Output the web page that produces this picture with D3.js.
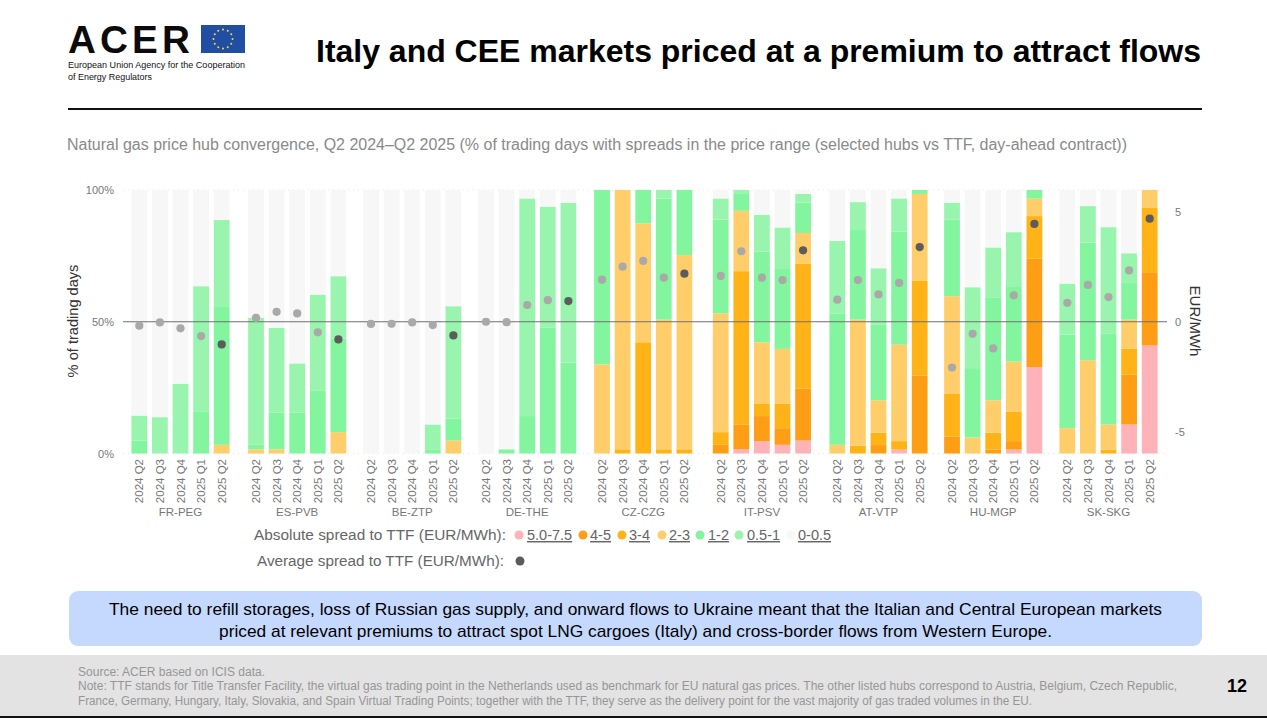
<!DOCTYPE html>
<html><head><meta charset="utf-8">
<script src="https://cdn.jsdelivr.net/npm/d3@7"></script>
<style>
html,body{margin:0;padding:0;background:#fff;overflow:hidden}
svg{display:block;font-family:"Liberation Sans",Arial,sans-serif}
</style></head><body><svg id="c" width="1267" height="718"></svg>
<script>
const hubs=["FR-PEG","ES-PVB","BE-ZTP","DE-THE","CZ-CZG","IT-PSV","AT-VTP","HU-MGP","SK-SKG"];
const quarters=["2024 Q2","2024 Q3","2024 Q4","2025 Q1","2025 Q2"];
const bands=["5.0-7.5","4-5","3-4","2-3","1-2","0.5-1","0-0.5"];
const bandColors=["#ffb3b8","#ff9d14","#ffb316","#ffce6b","#82f59e","#99f5ae","#f7f7f7"];
const p5=[0,0,0,0,0, 0,0,0,0,0, 0,0,0,0,0, 0,0,0,0,0, 0,0,0,0,0, 0,1.6,4.7,3.3,4.9, 0,0,0,1.5,0, 0,0,0,1.5,32.8, 0,0,0,11,41];
const p4=[0,0,0,0,0, 0,0,0,0,0, 0,0,0,0,0, 0,0,0,0,0, 0,0,0,0,0, 3.3,9.3,9.5,6.3,19.7, 0,0,3.2,0,29.5, 6.5,0,1.5,3.2,41.1, 0,0,0,19,27.8];
const p3=[0,0,0,0,0, 0,0,0,0,0, 0,0,0,0,0, 0,0,0,0,0, 0,1.6,42.2,1.6,1.6, 4.8,58.3,4.6,9.4,47.5, 0,3,4.7,3.2,36, 16.1,0,6.4,11.1,16.2, 0,0,1.5,9.7,24.6];
const p2=[0,0,0,0,3.3, 1.6,1.6,0,0,8.1, 0,0,0,0,4.9, 0,0,0,0,0, 33.8,98.4,45.1,49.2,73.7, 45.1,22.9,23.4,20.7,11.6, 3.3,47.8,12.3,36.6,33, 37.1,6.1,12.3,19.1,6.6, 9.6,35.4,9.5,11.1,6.6];
const p1=[4.9,0,0,15.8,52.6, 1.7,14,15.6,24,35.5, 0,0,0,1.6,8.3, 0,1.6,14.2,47.7,34.5, 66.2,0,12.7,46,24.7, 35.6,6.4,34.4,30.3,11.5, 49.9,34,28.8,42.9,1.5, 29,26.3,39.1,28.6,3.3, 35.6,44.6,34.4,14.2,0];
const p05=[9.5,13.8,26.5,47.7,32.7, 48.3,32.1,18.6,36.3,23.7, 0,0,0,9.4,42.7, 0,0,82.6,46,60.7, 0,0,0,3.2,0, 8,1.5,14,15.8,3.3, 27.5,10.6,21.3,12.6,0, 6.5,30.7,18.9,20.5,0, 19.3,13.9,40.5,11,0];
const p0=[85.6,86.2,73.5,36.5,11.4, 48.4,52.3,65.8,39.7,32.7, 100,100,100,89,44.1, 100,98.4,3.2,6.3,4.8, 0,0,0,0,0, 3.2,0,9.4,14.2,1.5, 19.3,4.6,29.7,3.2,0, 4.8,36.9,21.8,16,0, 35.5,6.1,14.1,24,0];
const avgSpread=[-0.18,-0.03,-0.3,-0.65,-1.03, 0.18,0.45,0.38,-0.48,-0.8, -0.1,-0.09,-0.03,-0.15,-0.62, 0,-0.02,0.76,0.98,0.94, 1.91,2.5,2.76,2,2.18, 2.08,3.2,2,1.89,3.24, 1,1.89,1.24,1.76,3.39, -2.08,-0.55,-1.21,1.2,4.44, 0.86,1.67,1.12,2.33,4.68];
const pctTicks=[0,50,100], eurTicks=[-5,0,5];
const title="Italy and CEE markets priced at a premium to attract flows";
const subtitle="Natural gas price hub convergence, Q2 2024–Q2 2025 (% of trading days with spreads in the price range (selected hubs vs TTF, day-ahead contract))";
const callout=["The need to refill storages, loss of Russian gas supply, and onward flows to Ukraine meant that the Italian and Central European markets","priced at relevant premiums to attract spot LNG cargoes (Italy) and cross-border flows from Western Europe."];
const notes=["Source: ACER based on ICIS data.","Note: TTF stands for Title Transfer Facility, the virtual gas trading point in the Netherlands used as benchmark for EU natural gas prices. The other listed hubs correspond to Austria, Belgium, Czech Republic,","France, Germany, Hungary, Italy, Slovakia, and Spain Virtual Trading Points; together with the TTF, they serve as the delivery point for the vast majority of gas traded volumes in the EU."];

const svg=d3.select("#c");
const T=(x,y,s,o={})=>{const t=svg.append("text").attr("x",x).attr("y",y).text(s).attr("font-size",o.size||12).attr("fill",o.fill||"#000");
 if(o.weight)t.attr("font-weight",o.weight); if(o.anchor)t.attr("text-anchor",o.anchor); if(o.ls)t.attr("letter-spacing",o.ls); if(o.len)t.attr("textLength",o.len).attr("lengthAdjust","spacingAndGlyphs"); return t;};

// header
T(68,53,"ACER",{size:39.5,weight:700,ls:4.2,fill:"#0b0b0b",len:126});
svg.append("rect").attr("x",201).attr("y",25).attr("width",44).attr("height",28).attr("fill","#1f4ea3");
svg.append("g").selectAll("circle").data(d3.range(12)).join("circle")
 .attr("cx",d=>223+9.5*Math.cos(d*Math.PI/6)).attr("cy",d=>39+9.5*Math.sin(d*Math.PI/6)).attr("r",1).attr("fill","#ffd83a");
T(68,68,"European Union Agency for the Cooperation",{size:9.2,fill:"#111",len:177});
T(68,80,"of Energy Regulators",{size:9.2,fill:"#111",len:84});
T(1201,62,title,{size:30.5,weight:700,anchor:"end",len:885});
svg.append("rect").attr("x",68).attr("y",108).attr("width",1134).attr("height",2).attr("fill","#111");
T(67,150,subtitle,{size:15.6,fill:"#8a8a8a",len:1060});

// scales
const plotTop=190,plotBottom=453.5;
const y=d3.scaleLinear().domain([0,100]).range([plotBottom,plotTop]);
const yR=d3.scaleLinear().domain([-5.98,5.98]).range([plotBottom,plotTop]);
const hubX=d3.scaleOrdinal().domain(hubs).range([129,245.7,360.7,475.7,591.7,710.4,827,941.7,1057]);
const qX=d3.scaleBand().domain(quarters).range([0,103]).paddingInner(0.235).paddingOuter(0.118);
const rows=[];
hubs.forEach((h,i)=>quarters.forEach((q,j)=>{const k=i*5+j;rows.push({hub:h,q,"5.0-7.5":p5[k],"4-5":p4[k],"3-4":p3[k],"2-3":p2[k],"1-2":p1[k],"0.5-1":p05[k],"0-0.5":p0[k],avg:avgSpread[k],last:j===4});}));
const bx=d=>hubX(d.hub)+qX(d.q);

// dotted light grid at both extremes
[0,100].forEach(v=>svg.append("line").attr("x1",123).attr("x2",1167).attr("y1",y(v)).attr("y2",y(v)).attr("stroke","#e4e4e4").attr("stroke-dasharray","1 4"));

// stacked bars
const stack=d3.stack().keys(bands)(rows);
svg.append("g").selectAll("g").data(stack).join("g").attr("fill",(d,i)=>bandColors[i])
 .selectAll("rect").data(d=>d).join("rect")
 .attr("x",d=>bx(d.data)).attr("width",qX.bandwidth())
 .attr("y",d=>y(d[1])).attr("height",d=>Math.max(0,y(d[0])-y(d[1])));

// zero line
svg.append("line").attr("x1",123).attr("x2",1167).attr("y1",yR(0)).attr("y2",yR(0)).attr("stroke","#6f6f6f").attr("stroke-width",1);

// dots
svg.append("g").selectAll("circle").data(rows).join("circle")
 .attr("cx",d=>bx(d)+qX.bandwidth()/2).attr("cy",d=>yR(d.avg)).attr("r",4.1)
 .attr("fill",d=>d.last?"#5c5c5c":"#a9a9a9");

// axes
const fmtAxis=g=>{g.select(".domain").remove();g.selectAll(".tick line").remove();g.selectAll("text").attr("fill","#777").attr("font-family","'Liberation Sans',Arial,sans-serif");};
svg.append("g").attr("transform","translate(114,0)").call(d3.axisLeft(y).tickValues(pctTicks).tickFormat(d=>d+"%").tickSize(0).tickPadding(0)).attr("font-size",11).call(fmtAxis);
svg.append("g").attr("transform","translate(1175,0)").call(d3.axisRight(yR).tickValues(eurTicks).tickFormat(d=>d).tickSize(0).tickPadding(0)).attr("font-size",11).call(fmtAxis);
svg.append("g").attr("transform",`translate(0,${plotBottom})`).selectAll("g").data(hubs).join("g")
 .attr("transform",h=>`translate(${hubX(h)},0)`)
 .each(function(h){
   const g=d3.select(this);
   g.append("g").call(d3.axisBottom(qX).tickSize(0).tickPadding(0)).attr("font-size",11.5).call(fmtAxis)
    .selectAll("text").attr("transform","rotate(-90)").attr("x",-5.5).attr("y",0).attr("dy","0.35em").attr("text-anchor","end");
   g.append("text").attr("x",51.5).attr("y",62).attr("text-anchor","middle").attr("font-size",11.5).attr("fill","#777").text(h);
 });
T(0,0,"% of trading days",{size:14.6,fill:"#333",anchor:"middle"}).attr("transform","translate(78,321) rotate(-90)");
T(0,0,"EUR/MWh",{size:15,fill:"#333",anchor:"middle"}).attr("transform","translate(1190,321) rotate(90)");

// legend
T(506,540,"Absolute spread to TTF (EUR/MWh):",{size:15.4,fill:"#666",anchor:"end",len:252});
T(504,566,"Average spread to TTF (EUR/MWh):",{size:15.4,fill:"#666",anchor:"end",len:247});
const legendDot=[519,583,622,662,700,739,791], legendText=[527,590,629,669,708,747,798];
bands.forEach((b,i)=>{
 svg.append("circle").attr("cx",legendDot[i]).attr("cy",535).attr("r",4.5).attr("fill",bandColors[i]);
 T(legendText[i],540,b,{size:14.5,fill:"#666"}).attr("text-decoration","underline");
});
svg.append("circle").attr("cx",520).attr("cy",561).attr("r",4.5).attr("fill","#5c5c5c");

// callout
svg.append("rect").attr("x",69).attr("y",591).attr("width",1133).attr("height",55).attr("rx",9).attr("fill","#c5d8fd");
T(635.5,615,callout[0],{size:17,anchor:"middle",len:1053});
T(635.5,636.5,callout[1],{size:17,anchor:"middle",len:833});

// footer
svg.append("rect").attr("x",0).attr("y",655).attr("width",1267).attr("height",61).attr("fill","#e3e3e3");
svg.append("rect").attr("x",0).attr("y",716).attr("width",1267).attr("height",2).attr("fill","#111");
T(78,676,notes[0],{size:12,fill:"#969696",len:187});
T(78,690,notes[1],{size:12,fill:"#969696",len:1099});
T(78,705,notes[2],{size:12,fill:"#969696",len:954});
T(1237,692,"12",{size:18,weight:700,anchor:"middle"});
</script></body></html>
